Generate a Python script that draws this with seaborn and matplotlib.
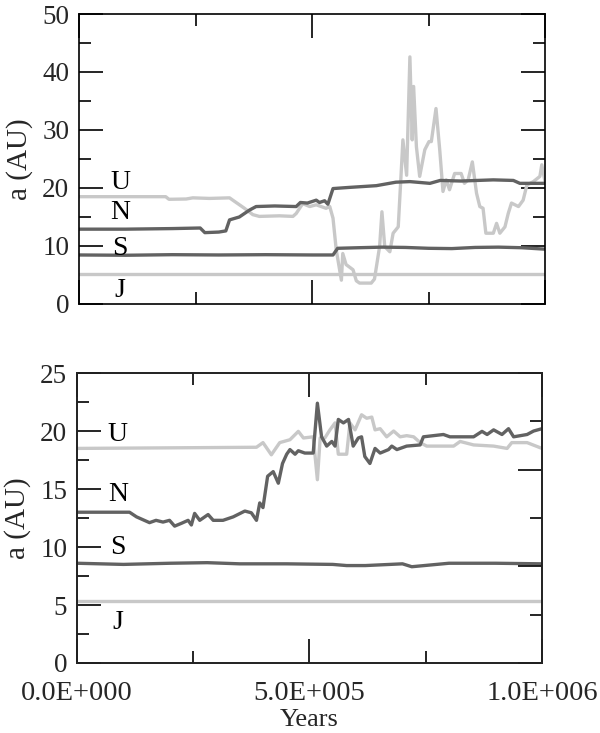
import matplotlib
matplotlib.use("Agg")
import matplotlib.pyplot as plt
import seaborn as sns
import numpy as np
import pandas as pd
from matplotlib.ticker import MultipleLocator, FixedLocator

# ---------------- data (years in units of 1e6 for reading convenience) -------------
# top panel
j_top_x = [0.0, 1.0]
j_top_y = [5.25, 5.25]

s_top_x = [0.0, 0.1, 0.2, 0.3, 0.4, 0.5, 0.545, 0.555, 0.6, 0.65, 0.7, 0.75, 0.8, 0.85, 0.9, 0.95, 1.0]
s_top_y = [8.45, 8.4, 8.5, 8.45, 8.5, 8.45, 8.45, 9.6, 9.7, 9.8, 9.75, 9.6, 9.55, 9.75, 9.8, 9.7, 9.45]

n_top_x = [0.0, 0.1, 0.2, 0.26, 0.27, 0.3, 0.315, 0.323, 0.344, 0.366, 0.38, 0.42, 0.466,
           0.475, 0.49, 0.509, 0.516, 0.527, 0.534, 0.545, 0.58, 0.638, 0.68, 0.71, 0.753,
           0.775, 0.82, 0.889, 0.932, 0.946, 1.0]
n_top_y = [12.9, 12.9, 13.0, 13.1, 12.3, 12.4, 12.6, 14.5, 15.0, 16.2, 16.8, 16.9, 16.8,
           17.5, 17.4, 17.9, 17.5, 17.8, 17.2, 19.9, 20.1, 20.4, 21.0, 21.1, 20.8,
           21.3, 21.2, 21.4, 21.3, 20.8, 20.8]

u_top_x = [0.0, 0.186, 0.193, 0.23, 0.244, 0.28, 0.323, 0.33, 0.355, 0.373, 0.387, 0.43, 0.459,
           0.466, 0.48, 0.495, 0.509, 0.53, 0.538, 0.545, 0.552, 0.563, 0.566, 0.573, 0.588,
           0.595, 0.602, 0.627, 0.634, 0.645, 0.65, 0.656, 0.667, 0.674, 0.685, 0.692, 0.695,
           0.703, 0.71, 0.715, 0.718, 0.724, 0.731, 0.742, 0.751, 0.756, 0.766, 0.774, 0.781,
           0.788, 0.795, 0.806, 0.82, 0.827, 0.835, 0.844, 0.853, 0.86, 0.867, 0.873, 0.882,
           0.889, 0.896, 0.903, 0.914, 0.921, 0.928, 0.943, 0.953, 0.961, 0.975, 0.989, 0.993, 1.0]
u_top_y = [18.5, 18.5, 18.05, 18.1, 18.3, 18.2, 18.3, 17.9, 16.5, 15.4, 15.1, 15.2, 15.1,
           15.6, 17.3, 16.8, 17.1, 16.5, 16.8, 14.8, 9.3, 4.1, 8.7, 6.8, 5.9,
           4.0, 3.6, 3.6, 4.3, 9.9, 15.9, 9.9, 9.0, 12.2, 13.3, 23.7, 28.3,
           22.2, 42.6, 28.3, 37.5, 27.1, 22.0, 26.6, 28.0, 28.0, 33.7, 26.6, 19.4,
           21.4, 19.7, 22.5, 22.5, 20.8, 21.4, 24.5, 19.1, 16.8, 16.5, 12.2, 12.2,
           12.2, 13.9, 12.2, 13.3, 15.6, 17.4, 16.8, 17.9, 20.5, 21.1, 22.0, 24.0, 21.1]

# bottom panel
j_bot_x = [0.0, 1.0]
j_bot_y = [5.35, 5.35]

s_bot_x = [0.0, 0.1, 0.2, 0.28, 0.35, 0.45, 0.55, 0.58, 0.62, 0.7, 0.72, 0.8, 0.9, 1.0]
s_bot_y = [8.6, 8.5, 8.6, 8.65, 8.55, 8.55, 8.5, 8.4, 8.4, 8.55, 8.3, 8.6, 8.6, 8.55]

u_bot_x = [0.0, 0.2, 0.386, 0.40, 0.418, 0.436, 0.458, 0.476, 0.487, 0.508, 0.517, 0.523, 0.533,
           0.544, 0.555, 0.562, 0.58, 0.587, 0.598, 0.612, 0.623, 0.634, 0.641, 0.652, 0.666,
           0.681, 0.695, 0.709, 0.724, 0.738, 0.752, 0.81, 0.824, 0.853, 0.896, 0.925, 0.935,
           0.968, 1.0]
u_bot_y = [18.5, 18.55, 18.6, 19.0, 17.95, 19.0, 19.25, 19.97, 19.4, 19.5, 15.8, 19.4, 19.4,
           20.1, 20.7, 18.0, 18.0, 20.7, 20.1, 21.4, 21.1, 21.2, 20.1, 20.2, 19.5,
           20.0, 19.5, 19.6, 19.5, 19.0, 18.7, 18.7, 19.1, 18.8, 18.7, 18.5, 19.0,
           19.0, 18.5]

n_bot_x = [0.0, 0.113, 0.128, 0.156, 0.17, 0.185, 0.199, 0.21, 0.225, 0.239, 0.246, 0.253, 0.264,
           0.282, 0.293, 0.314, 0.336, 0.361, 0.375, 0.386, 0.393, 0.40, 0.41, 0.422, 0.433,
           0.442, 0.451, 0.458, 0.469, 0.476, 0.49, 0.508, 0.517, 0.526, 0.537, 0.548, 0.555,
           0.562, 0.573, 0.584, 0.594, 0.605, 0.612, 0.619, 0.63, 0.641, 0.652, 0.67, 0.677,
           0.688, 0.709, 0.738, 0.745, 0.788, 0.802, 0.853, 0.871, 0.882, 0.896, 0.914, 0.928,
           0.939, 0.968, 0.982, 1.0]
n_bot_y = [13.0, 13.0, 12.6, 12.1, 12.3, 12.15, 12.3, 11.8, 12.05, 12.3, 11.9, 12.9, 12.3,
           12.8, 12.3, 12.3, 12.6, 13.1, 12.95, 12.3, 13.8, 13.4, 16.1, 16.5, 15.5,
           17.2, 18.0, 18.4, 18.0, 18.3, 18.1, 18.1, 22.4, 19.5, 18.7, 19.1, 18.7,
           21.0, 20.7, 21.0, 18.7, 19.4, 19.5, 17.8, 17.2, 18.5, 18.1, 18.4, 18.7,
           18.4, 18.7, 18.8, 19.5, 19.7, 19.5, 19.5, 19.97, 19.7, 20.1, 19.7, 20.2,
           19.5, 19.7, 20.0, 20.2]

labels = ["U", "N", "S", "J"]
top_label_y = [21.0, 15.7, 9.6, 2.3]
bot_label_y = [19.7, 14.5, 10.0, 3.45]
label_x = 0.088

xtick_vals = [0.0, 0.5, 1.0]
xtick_labels = ["0.0E+000", "5.0E+005", "1.0E+006"]

LIGHT = "#c8c8c8"
DARK = "#626262"

# ---------------- plotting -------------
sns.set_theme(style="white")
plt.rcParams["font.family"] = ["Liberation Serif", "DejaVu Serif"]
plt.rcParams["axes.linewidth"] = 1.2

fig = plt.figure(figsize=(6.0, 7.33), dpi=100)
ax1 = fig.add_axes([0.1317, 0.5853, 0.7767, 0.3956])
ax2 = fig.add_axes([0.1283, 0.0955, 0.775, 0.3956])

def draw(ax, series):
    for xs, ys, col in series:
        df = pd.DataFrame({"x": xs, "y": ys})
        sns.lineplot(data=df, x="x", y="y", ax=ax, color=col, lw=2.4,
                     estimator=None, sort=False, legend=False)

draw(ax1, [(j_top_x, j_top_y, LIGHT), (u_top_x, u_top_y, LIGHT),
           (s_top_x, s_top_y, DARK), (n_top_x, n_top_y, DARK)])
draw(ax2, [(j_bot_x, j_bot_y, LIGHT), (u_bot_x, u_bot_y, LIGHT),
           (s_bot_x, s_bot_y, DARK), (n_bot_x, n_bot_y, DARK)])

for ax, ly in ((ax1, top_label_y), (ax2, bot_label_y)):
    for lab, yy in zip(labels, ly):
        ax.text(label_x, yy, lab, fontsize=20, ha="center", va="center", color="black")

def style(ax, ymax, ymaj, ymin_, show_x):
    ax.set_xlim(0, 1.0)
    ax.set_ylim(0, ymax)
    ax.xaxis.set_major_locator(FixedLocator(xtick_vals))
    ax.xaxis.set_minor_locator(MultipleLocator(0.25))
    ax.yaxis.set_major_locator(MultipleLocator(ymaj))
    ax.yaxis.set_minor_locator(MultipleLocator(ymin_))
    ax.tick_params(which="both", direction="in", top=True, bottom=True, left=True,
                   color="black", width=1.2)
    ax.tick_params(which="major", length=17)
    ax.tick_params(which="minor", length=8.8)
    ax.tick_params(axis="y", labelsize=19.5, pad=7)
    ax.tick_params(axis="x", labelsize=20.5, pad=13)
    if show_x:
        ax.set_xticklabels(xtick_labels)
        ax.set_xlabel("Years", fontsize=19, labelpad=2)
    else:
        ax.set_xticklabels([])
        ax.set_xlabel("")
    ax.set_ylabel("a (AU)", fontsize=21)
    ax.yaxis.set_label_coords(-0.098, 0.5)
    for sp in ax.spines.values():
        sp.set_color("black")
        sp.set_linewidth(1.2)

style(ax1, 50, 10, 5, False)
ax1.tick_params(which="both", right=True)
style(ax2, 25, 5, 2.5, True)

# right-hand ticks of the lower panel follow a 0-30 scale in the reference
ax2r = ax2.twinx()
ax2r.set_ylim(0, 30)
ax2r.yaxis.set_major_locator(MultipleLocator(10))
ax2r.yaxis.set_minor_locator(MultipleLocator(5))
ax2r.tick_params(which="both", direction="in", right=True, labelright=False,
                 color="black", width=1.2)
ax2r.tick_params(which="major", length=17)
ax2r.tick_params(which="minor", length=8.8)
ax2r.grid(False)

fig.savefig("out.png", dpi=100)
